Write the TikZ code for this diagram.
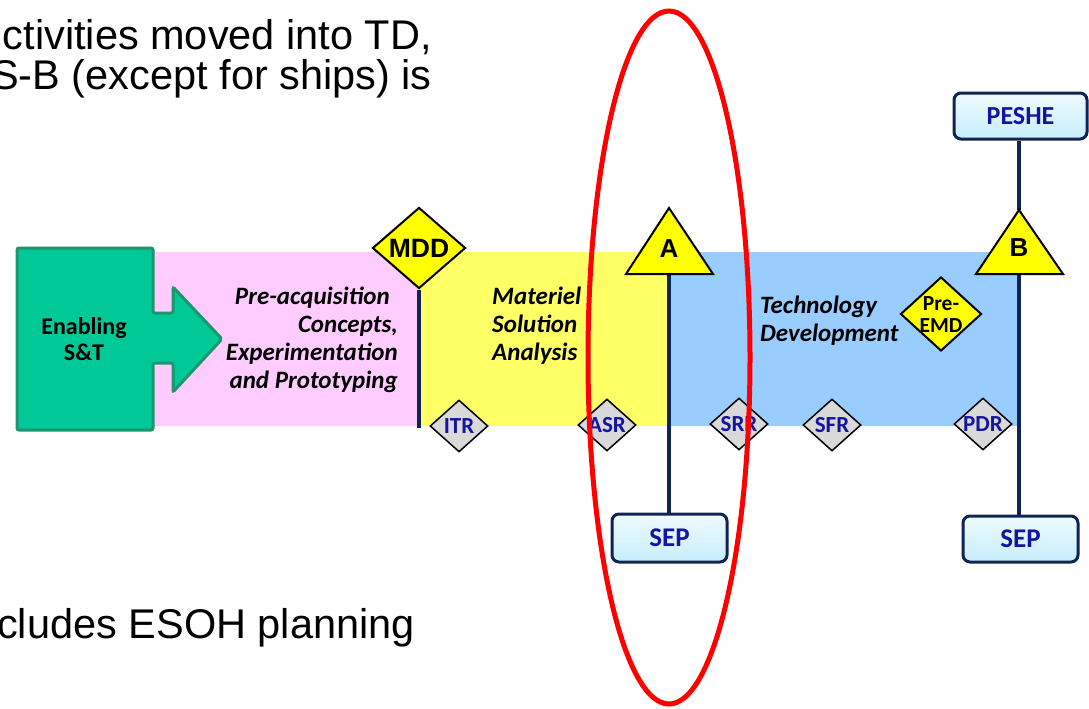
\documentclass[tikz,border=0pt]{standalone}
\usepackage{fontspec}
\setmainfont{Liberation Sans}
\newfontfamily\calfont{Carlito}
\usetikzlibrary{shapes.geometric}
\definecolor{pinkbg}{RGB}{255,204,255}
\definecolor{yelbg}{RGB}{255,255,102}
\definecolor{bluebg}{RGB}{153,204,255}
\definecolor{greenfill}{RGB}{0,200,150}
\definecolor{greenline}{RGB}{28,150,108}
\definecolor{navy}{RGB}{16,36,84}
\definecolor{txtblue}{RGB}{20,20,160}
\definecolor{boxtop}{RGB}{238,251,255}
\definecolor{boxbot}{RGB}{198,238,252}
\definecolor{diagray}{RGB}{217,217,217}
\definecolor{msyel}{RGB}{255,255,0}
\tikzset{
  band/.style={anchor=north west, inner sep=0, outer sep=0, minimum height=174},
  phase/.style={font=\calfont\bfseries\itshape\fontsize{25}{28}\selectfont, inner sep=0},
  bigtext/.style={font=\fontsize{41.5}{48}\selectfont, inner sep=0},
  conn/.style={draw=navy, line width=3.5pt},
  review/.style={shape=diamond, draw=black, line width=1.5pt, fill=diagray, minimum width=58, minimum height=52, inner sep=0},
  revlabel/.style={font=\calfont\bfseries\fontsize{23}{25}\selectfont, text=txtblue, inner sep=0},
  msdia/.style={shape=diamond, draw=black, line width=2pt, fill=msyel, inner sep=0},
  mstri/.style={draw=black, line width=2pt, fill=msyel, line join=miter},
  doc/.style={draw=navy, line width=3pt, rounded corners=7pt, top color=boxtop, bottom color=boxbot, minimum width=115, minimum height=46, inner sep=0, font=\calfont\bfseries\fontsize{27}{29}\selectfont, text=txtblue},
}
\begin{document}
\begin{tikzpicture}[x=1pt,y=-1pt]
\useasboundingbox (0,0) rectangle (1089,709);
\clip (0,0) rectangle (1089,709);
% top and bottom explanatory text
\node[bigtext, anchor=base east] (t1) at (432,49) {ctivities moved into TD,};
\node[bigtext, anchor=base east] (t2) at (432,89) {S-B (except for ships) is};
\node[bigtext, anchor=base east] (t3) at (415,638) {cludes ESOH planning};
% phase bands
\node[band, fill=pinkbg, minimum width=266] (pre) at (153,252) {};
\node[band, fill=yelbg, minimum width=250] (msa) at (419,252) {};
\node[band, fill=bluebg, minimum width=350] (td) at (669,252) {};
% enabling S&T arrow
\draw[fill=greenfill, draw=greenline, line width=3pt, rounded corners=2pt]
  (17,248) -- (153,248) -- (153,313) -- (173,313) -- (173,287) -- (222,339)
  -- (173,392) -- (173,363) -- (153,363) -- (153,430) -- (17,430) -- cycle;
\node[font=\calfont\bfseries\fontsize{24}{26}\selectfont, align=center, inner sep=0] (est) at (84,339) {Enabling\\S\&T};
% phase labels
\node[phase, align=right, anchor=east] (prelab) at (398,340) {Pre-acquisition\hspace*{8pt}\\Concepts,\hspace*{8pt}\\Experimentation\hspace*{7pt}\\and Prototyping};
\node[phase, align=left, anchor=west] (msalab) at (492,326) {Materiel\\Solution\\Analysis};
\node[phase, align=left, anchor=west] (tdlab) at (760,321) {Technology\\Development};
% milestone markers
\node[msdia, minimum width=93, minimum height=81] (mdd) at (419,248) {};
\node[font=\bfseries\fontsize{26.5}{28}\selectfont, inner sep=0] (mddlab) at (mdd.center) {MDD};
\coordinate (mddend) at (419,428);
\draw[conn] (mdd.south) -- (mddend);
\coordinate (Atip) at (669,208);
\coordinate (Abase) at (669,274);
\coordinate (Btip) at (1019,210);
\coordinate (Bbase) at (1019,274);
% documents
\node[doc, minimum height=48] (sepA) at (669.5,538) {SEP};
\node[doc] (sepB) at (1020.5,539) {SEP};
\node[doc, minimum width=133, font=\calfont\bfseries\fontsize{26}{28}\selectfont] (peshe) at (1020.5,116) {PESHE};
\draw[conn] (Abase) -- (Abase |- sepA.north);
\draw[conn] (Bbase) -- (Bbase |- sepB.north);
\draw[conn] (Btip |- peshe.south) -- (Btip);
\draw[mstri] (626,274) -- (Atip) -- (713,274) -- cycle;
\draw[mstri] (976,274) -- (Btip) -- (1063,274) -- cycle;
\node[font=\bfseries\fontsize{26}{28}\selectfont, inner sep=0] (A) at (669,249) {A};
\node[font=\bfseries\fontsize{26}{28}\selectfont, inner sep=0] (B) at (1019,248) {B};
\node[msdia, minimum width=81, minimum height=74] (preemd) at (941,314) {};
\node[font=\calfont\bfseries\fontsize{21.5}{22}\selectfont, align=center, inner sep=0] (preemdlab) at (941,315) {Pre-\\EMD};
% technical reviews
\node[review] (itr) at (459,426) {};
\node[revlabel] at (itr.center) {ITR};
\node[review] (asr) at (607,425) {};
\node[revlabel] at (asr.center) {ASR};
\node[review] (srr) at (739,424) {};
\node[revlabel] at (srr.center) {SRR};
\node[review] (sfr) at (832,425) {};
\node[revlabel] at (sfr.center) {SFR};
\node[review] (pdr) at (983,424) {};
\node[revlabel] at (pdr.center) {PDR};
% highlight oval
\node[shape=ellipse, draw=red, line width=5pt, minimum width=162, minimum height=693, inner sep=0] (oval) at (669,357.5) {};
\end{tikzpicture}
\end{document}
